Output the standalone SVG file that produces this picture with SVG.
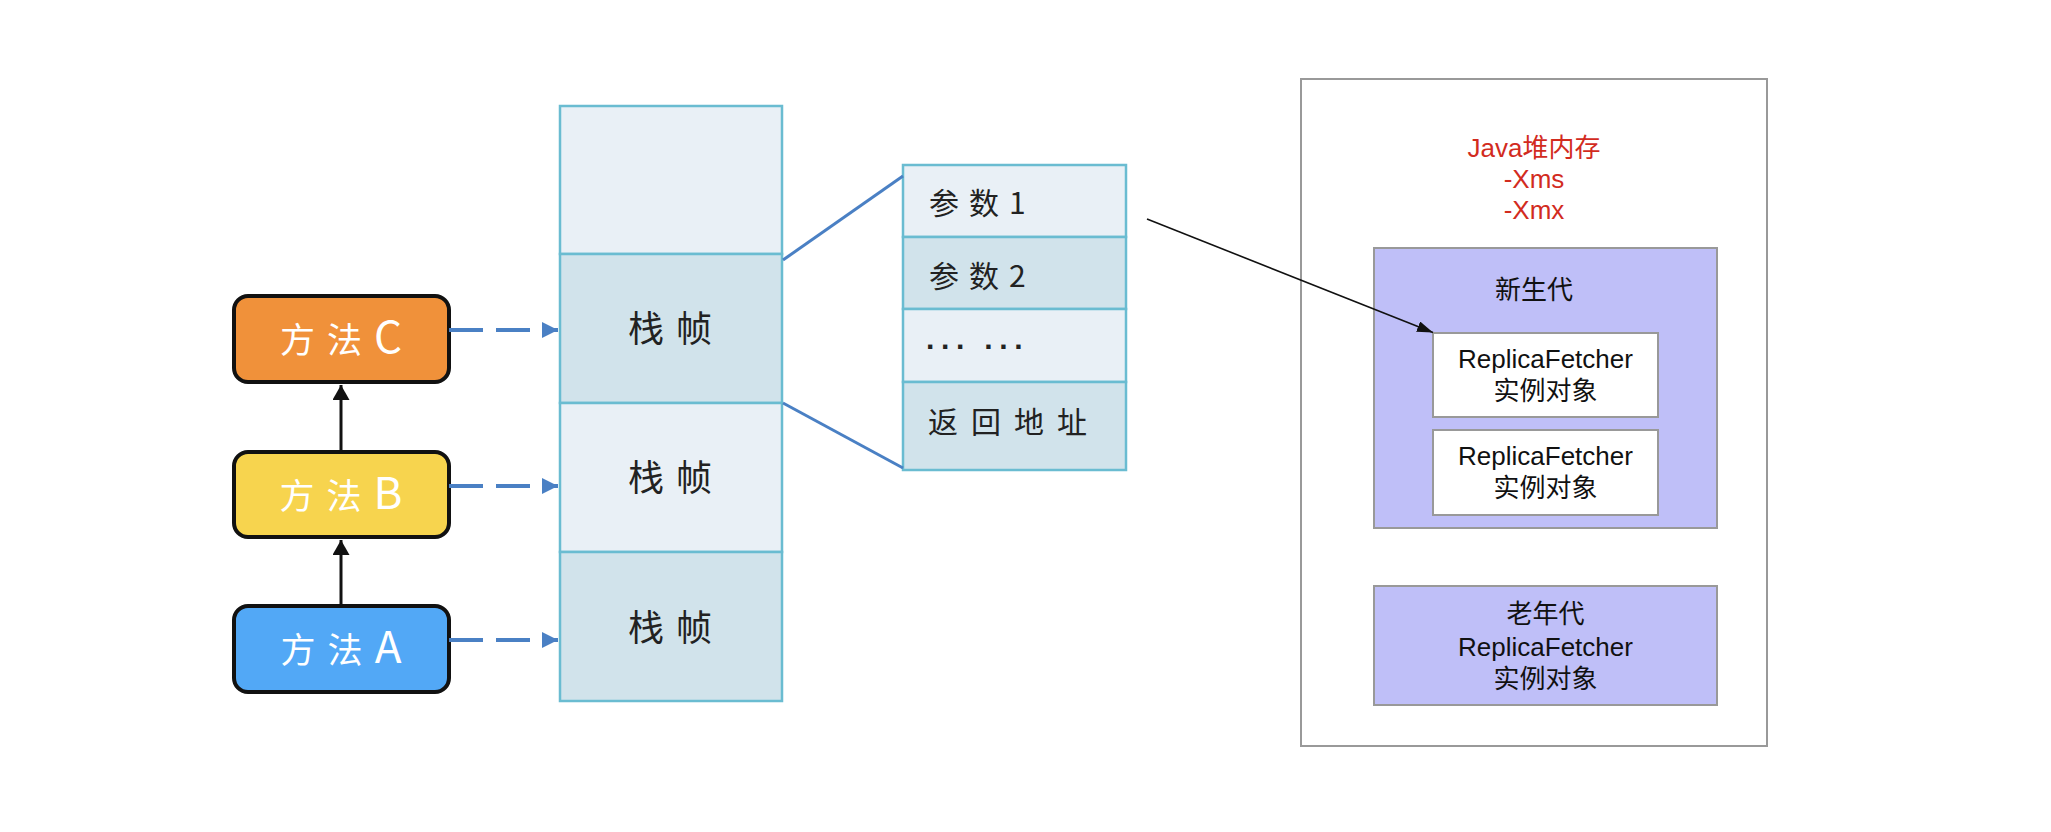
<svg xmlns="http://www.w3.org/2000/svg" width="2051" height="832" viewBox="0 0 2051 832">
<defs>
<style>
.mbox{stroke:#111;stroke-width:4}
.mtxt{font-family:"Noto Sans CJK SC",sans-serif;font-size:35px;fill:#fff;text-anchor:middle;letter-spacing:12px}
.big{font-size:44px}
.cell{stroke:#6ABCD1;stroke-width:2.5}
.light{fill:#E9F0F6}
.dark{fill:#D1E3EB}
.ctxt{font-family:"Noto Sans CJK SC",sans-serif;font-size:36px;fill:#222;text-anchor:middle;letter-spacing:12px}
.ptxt{font-family:"Noto Sans CJK SC",sans-serif;font-size:30px;fill:#222;letter-spacing:10px}
.dash{stroke:#4A80C4;stroke-width:4;stroke-dasharray:34 13;fill:none}
.blue{stroke:#4A80C4;stroke-width:3;fill:none}
.gbox{stroke:#999;stroke-width:2}
.rtxt{font-family:"Liberation Sans","Noto Sans CJK SC",sans-serif;font-size:26px;fill:#111;text-anchor:middle}
.red{fill:#D22B1E}
</style>
<marker id="bluehead" viewBox="0 0 10 10" refX="10" refY="5" markerWidth="16" markerHeight="16" markerUnits="userSpaceOnUse" orient="auto">
<path d="M0,0 L10,5 L0,10 z" fill="#4A80C4"/>
</marker>
<marker id="blackhead" viewBox="0 0 10 10" refX="10" refY="5" markerWidth="15" markerHeight="17" markerUnits="userSpaceOnUse" orient="auto" preserveAspectRatio="none">
<path d="M0,0 L10,5 L0,10 z" fill="#111"/>
</marker>
<marker id="thinhead" viewBox="0 0 10 10" refX="10" refY="5" markerWidth="16" markerHeight="11" markerUnits="userSpaceOnUse" orient="auto" preserveAspectRatio="none">
<path d="M0,0 L10,5 L0,10 z" fill="#111"/>
</marker>
</defs>
<rect width="2051" height="832" fill="#fff"/>

<g id="stack">
<rect class="cell light" x="560" y="106" width="222" height="148"/>
<rect class="cell dark" x="560" y="254" width="222" height="149"/>
<rect class="cell light" x="560" y="403" width="222" height="149"/>
<rect class="cell dark" x="560" y="552" width="222" height="149"/>
<text class="ctxt" x="676" y="342">栈帧</text>
<text class="ctxt" x="676" y="491">栈帧</text>
<text class="ctxt" x="676" y="641">栈帧</text>
</g>

<g id="params">
<rect class="cell light" x="903" y="165" width="223" height="72"/>
<rect class="cell dark" x="903" y="237" width="223" height="72"/>
<rect class="cell light" x="903" y="309" width="223" height="73"/>
<rect class="cell dark" x="903" y="382" width="223" height="88"/>
<text class="ptxt" x="929" y="214">参数1</text>
<text class="ptxt" x="929" y="287">参数2</text>
<text x="926" y="357" style="font-family:'Liberation Sans',sans-serif;font-size:30px;font-weight:bold;fill:#222;letter-spacing:5px">··· ···</text>
<text class="ptxt" x="928" y="433" style="letter-spacing:13px">返回地址</text>
</g>

<g id="methodC">
<rect class="mbox" x="234" y="296" width="215" height="86" rx="14" fill="#F0913A"/>
<text class="mtxt" x="347" y="353">方法<tspan class="big">C</tspan></text>
</g>
<g id="methodB">
<rect class="mbox" x="234" y="452" width="215" height="85" rx="14" fill="#F7D44E"/>
<text class="mtxt" x="347" y="509">方法<tspan class="big">B</tspan></text>
</g>
<g id="methodA">
<rect class="mbox" x="234" y="606" width="215" height="86" rx="14" fill="#52A8F6"/>
<text class="mtxt" x="347" y="663">方法<tspan class="big">A</tspan></text>
</g>

<g id="heap">
<rect class="gbox" x="1301" y="79" width="466" height="667" fill="#fff"/>
<text class="rtxt red" x="1534" y="157">Java堆内存</text>
<text class="rtxt red" x="1534" y="188">-Xms</text>
<text class="rtxt red" x="1534" y="219">-Xmx</text>
</g>
<g id="young">
<rect class="gbox" x="1374" y="248" width="343" height="280" fill="#BFBFF8"/>
<text class="rtxt" x="1534" y="299">新生代</text>
</g>
<g id="obj1">
<rect class="gbox" x="1433" y="333" width="225" height="84" fill="#fff"/>
<text class="rtxt" x="1545.5" y="368">ReplicaFetcher</text>
<text class="rtxt" x="1545.5" y="400">实例对象</text>
</g>
<g id="obj2">
<rect class="gbox" x="1433" y="430" width="225" height="85" fill="#fff"/>
<text class="rtxt" x="1545.5" y="465">ReplicaFetcher</text>
<text class="rtxt" x="1545.5" y="497">实例对象</text>
</g>
<g id="old">
<rect class="gbox" x="1374" y="586" width="343" height="119" fill="#BFBFF8"/>
<text class="rtxt" x="1545.5" y="623">老年代</text>
<text class="rtxt" x="1545.5" y="656">ReplicaFetcher</text>
<text class="rtxt" x="1545.5" y="688">实例对象</text>
</g>

<g id="connectors">
<line class="dash" x1="449" y1="330" x2="558" y2="330" marker-end="url(#bluehead)"/>
<line class="dash" x1="449" y1="486" x2="558" y2="486" marker-end="url(#bluehead)"/>
<line class="dash" x1="449" y1="640" x2="558" y2="640" marker-end="url(#bluehead)"/>
<line x1="341" y1="452" x2="341" y2="385" stroke="#111" stroke-width="3" marker-end="url(#blackhead)"/>
<line x1="341" y1="606" x2="341" y2="540" stroke="#111" stroke-width="3" marker-end="url(#blackhead)"/>
<line class="blue" x1="783" y1="260" x2="903" y2="176"/>
<line class="blue" x1="783" y1="403" x2="903" y2="468"/>
<line x1="1147" y1="219" x2="1433" y2="332.5" stroke="#111" stroke-width="1.6" marker-end="url(#thinhead)"/>
</g>
</svg>
